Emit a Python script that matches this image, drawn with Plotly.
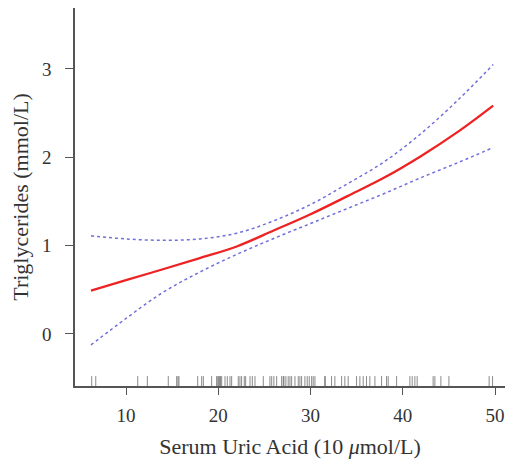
import plotly.graph_objects as go

# Data
x_fit = [6.2, 10, 14, 18, 22, 26, 30, 34, 38, 42, 46, 49.8]
y_fit = [0.49, 0.608, 0.732, 0.858, 0.99, 1.17, 1.355, 1.56, 1.77, 2.015, 2.29, 2.585]
y_upper = [1.11, 1.075, 1.06, 1.075, 1.14, 1.28, 1.465, 1.70, 1.95, 2.27, 2.65, 3.05]
y_lower = [-0.125, 0.175, 0.47, 0.70, 0.90, 1.08, 1.25, 1.42, 1.59, 1.77, 1.94, 2.11]

rug_x = [6.28, 6.72, 11.27, 12.31, 14.58, 15.49, 15.63, 15.74, 17.77, 18.20, 18.38,
         19.28, 19.82, 19.95, 20.05, 20.15, 20.25, 20.37, 20.73, 20.98, 21.27, 21.45,
         22.17, 22.35, 22.53, 22.82, 22.97, 23.44, 23.69, 23.98, 24.88, 25.6, 25.79,
         26.03, 26.33, 26.87, 27.04, 27.12, 27.33, 27.58, 27.77, 27.95, 28.31, 28.67,
         28.85, 29.03, 29.39, 29.64, 29.86, 30.12, 30.29, 30.48, 31.56, 31.58, 32.28,
         32.64, 33.37, 33.72, 34.08, 34.99, 35.35, 35.71, 36.07, 36.43, 36.98, 37.70,
         38.24, 38.42, 39.33, 40.77, 41.02, 41.31, 41.56, 43.29, 43.48, 44.13, 45.0,
         49.36, 49.73]

x_ticks = [10, 20, 30, 40, 50]
y_ticks = [0, 1, 2, 3]
X_RANGE = [4.47, 51.08]
Y_RANGE = [-0.59, 3.69]
RUG_LEN = 0.112

rx, ry = [], []
for v in rug_x:
    rx += [v, v, None]
    ry += [Y_RANGE[0], Y_RANGE[0] + RUG_LEN, None]

fig = go.Figure()
fig.add_trace(go.Scatter(x=rx, y=ry, mode="lines",
                         line=dict(color="rgba(60,60,60,0.6)", width=1),
                         hoverinfo="skip"))
fig.add_trace(go.Scatter(x=x_fit, y=y_upper, mode="lines",
                         line=dict(color="#7070dd", width=1.5, dash="dot", shape="spline")))
fig.add_trace(go.Scatter(x=x_fit, y=y_lower, mode="lines",
                         line=dict(color="#7070dd", width=1.5, dash="dot", shape="spline")))
fig.add_trace(go.Scatter(x=x_fit, y=y_fit, mode="lines",
                         line=dict(color="#ee2222", width=2.3, shape="spline")))

font = "Liberation Serif, Times New Roman, serif"
fig.update_layout(
    width=507, height=460,
    margin=dict(l=75, r=2, t=8, b=74, autoexpand=False),
    paper_bgcolor="white", plot_bgcolor="white",
    showlegend=False,
    font=dict(family=font, size=20, color="#333333"),
    xaxis=dict(range=X_RANGE, tickvals=x_ticks, showgrid=False, zeroline=False,
               showline=True, linecolor="#555555", linewidth=1.5,
               ticks="outside", ticklen=7, tickwidth=1.2, tickcolor="#555555",
               ticklabelstandoff=4, tickfont=dict(size=19), automargin=False,
               title=dict(text="Serum Uric Acid (10 <i>μ</i>mol/L)", standoff=14,
                          font=dict(size=22))),
    yaxis=dict(range=Y_RANGE, tickvals=y_ticks, showgrid=False, zeroline=False,
               showline=True, linecolor="#555555", linewidth=1.5,
               ticks="outside", ticklen=8, tickwidth=1.2, tickcolor="#555555",
               ticklabelstandoff=10, tickfont=dict(size=19), automargin=False,
               title=dict(text="Triglycerides (mmol/L)", standoff=7,
                          font=dict(size=22))),
)
# remove the browser's default 8px page margin so the figure fills the window
fig.write_html("out.html",
               config={"displayModeBar": False},
               post_script="document.body.style.margin='0';"
                           "document.body.style.overflow='hidden';")
